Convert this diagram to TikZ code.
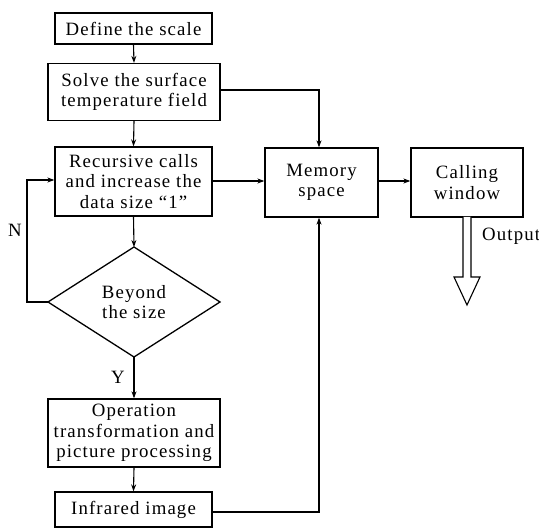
\documentclass[tikz,border=0pt]{standalone}
\usepackage{fontspec}
\setmainfont{Liberation Serif}[LetterSpace=6]
\usetikzlibrary{arrows.meta}
\begin{document}
\begin{tikzpicture}[x=1pt,y=-1pt,
  box/.style={draw,line width=1.3pt,inner sep=0pt,align=center,font=\fontsize{18.8}{20.5}\selectfont},
  lbl/.style={inner sep=0pt,font=\fontsize{18.8}{20.5}\selectfont},
  arr/.style={line width=1.1pt,-{Stealth[length=7pt,width=5pt]}},
  ln/.style={line width=1.1pt}]
\useasboundingbox (0,0) rectangle (539,529);
\node[box,minimum width=157pt,minimum height=31pt] (def) at (133.5,28.5) {Define the scale};
\node[box,minimum width=172pt,minimum height=57pt] (solve) at (134,92) {Solve the surface\\temperature field};
\node[box,minimum width=157pt,minimum height=69pt] (rec) at (133.5,181.5) {Recursive calls\\and increase the\\data size ``1''};
\coordinate (diaT) at (134,247);
\coordinate (diaL) at (48,302);
\coordinate (diaR) at (220,302);
\coordinate (diaB) at (134,357);
\draw[line width=1.3pt] (diaT) -- (diaR) -- (diaB) -- (diaL) -- cycle;
\node[lbl,align=center] (dia) at (134,302) {Beyond\\the size};
\node[box,minimum width=172pt,minimum height=68pt] (op) at (134,433) {Operation\\transformation and\\picture processing};
\node[box,minimum width=157pt,minimum height=35pt] (inf) at (133.5,509.5) {Infrared image};
\node[box,minimum width=113pt,minimum height=69pt] (mem) at (321.5,182.5) {Memory\\space};
\node[box,minimum width=112pt,minimum height=69pt] (call) at (467,182.5) {Calling\\window};
\node[lbl] (N) at (15,230) {N};
\node[lbl] (Y) at (118,377) {Y};
\node[lbl,anchor=west] (out) at (482,236) {Output};
\coordinate (fbA) at (27,302);
\coordinate (fbB) at (27,180);
\coordinate (sA) at (319,90);
\coordinate (iA) at (319,512);
\draw[arr] (def.south) -- (solve.north);
\draw[arr] (solve.south) -- (rec.north);
\draw[arr] (rec.south) -- (diaT);
\draw[arr] (diaB) -- (op.north);
\draw[arr] (op.south) -- (inf.north);
\draw[arr] (diaL) -- (fbA) -- (fbB) -- (rec.west |- fbB);
\draw[arr] (rec.east |- 0,181) -- (mem.west |- 0,181);
\draw[arr] (solve.east |- sA) -- (sA) -- (mem.north -| sA);
\draw[arr] (inf.east |- iA) -- (iA) -- (mem.south -| iA);
\draw[arr] (mem.east |- 0,181) -- (call.west |- 0,181);
\draw[line width=1.1pt,fill=white] (463,217) -- (463,277) -- (454,277) -- (467,305) -- (480,277) -- (471,277) -- (471,217);
\end{tikzpicture}
\end{document}
